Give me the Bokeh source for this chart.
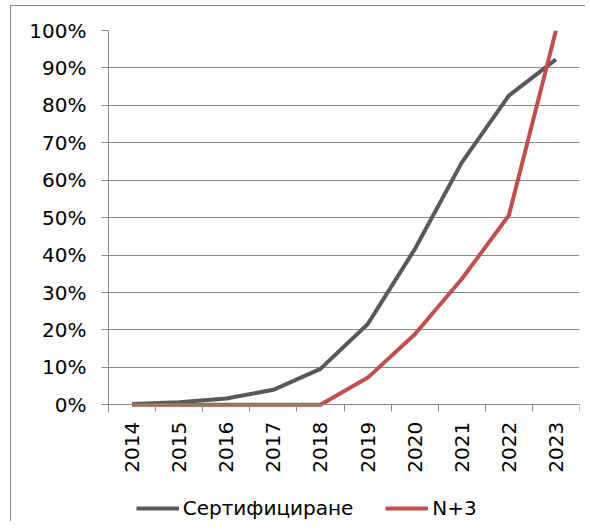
import math
from bokeh.plotting import figure
from bokeh.models import Range1d, FixedTicker, NumeralTickFormatter, Legend, LegendItem
from bokeh.embed import file_html
from bokeh.resources import INLINE

years = ["2014", "2015", "2016", "2017", "2018", "2019", "2020", "2021", "2022", "2023"]
certification = [0.002, 0.007, 0.017, 0.040, 0.096, 0.215, 0.415, 0.647, 0.826, 0.923]
n_plus_3 = [0.0, 0.0, 0.0, 0.0, 0.0, 0.072, 0.188, 0.336, 0.506, 1.0]
series_names = ["Сертифициране", "N+3"]
y_ticks = [0.0, 0.1, 0.2, 0.3, 0.4, 0.5, 0.6, 0.7, 0.8, 0.9, 1.0]

GRAY = "#8a8a8a"
FONT = "DejaVu Sans"

x = [i + 0.5 for i in range(len(years))]

# frame: top at canvas 24, bottom at canvas 514; value 0 sits 374.3 px below 1
y_bottom = -(514 - 398.3) / 374.3

p = figure(width=575, height=516, output_backend="svg", toolbar_location=None,
           x_range=Range1d(0, len(years)), y_range=Range1d(y_bottom, 1.0),
           min_border_left=97, min_border_right=7, min_border_top=24, min_border_bottom=2)
p.styles = {"border-top": "1px solid " + GRAY, "border-left": "1px solid " + GRAY,
            "margin-left": "10px", "margin-top": "5px"}
p.outline_line_color = None
p.background_fill_color = "white"
p.border_fill_color = "white"

# x axis, drawn at the 0 line inside the (tall) frame
xa = p.xaxis[0]
xa.fixed_location = 0
xa.ticker = FixedTicker(ticks=x, minor_ticks=list(range(len(years) + 1)))
xa.major_label_overrides = {x[i]: years[i] for i in range(len(years))}
xa.major_tick_out = 0
xa.major_tick_in = 0
xa.minor_tick_out = 7
xa.minor_tick_in = 0
xa.minor_tick_line_color = GRAY
xa.axis_line_color = GRAY
xa.major_label_orientation = math.pi / 2
xa.major_label_standoff = 10
xa.major_label_text_font = FONT
xa.major_label_text_font_size = "20px"
xa.major_label_text_color = "black"

# y axis
ya = p.yaxis[0]
ya.bounds = (-0.0198, 1.0)
ya.ticker = FixedTicker(ticks=y_ticks)
ya.formatter = NumeralTickFormatter(format="0%")
ya.major_tick_out = 7
ya.major_tick_in = 0
ya.major_tick_line_color = GRAY
ya.minor_tick_line_color = None
ya.axis_line_color = GRAY
ya.major_label_standoff = 15
ya.major_label_text_font = FONT
ya.major_label_text_font_size = "20px"
ya.major_label_text_color = "black"

p.xgrid.visible = False
p.ygrid.grid_line_color = GRAY
p.ygrid.grid_line_width = 1

r1 = p.line(x, certification, line_color="#595959", line_width=4, line_join="round")
r2 = p.line(x, n_plus_3, line_color="#C0504D", line_width=4, line_join="round")

legend = Legend(items=[LegendItem(label=series_names[0], renderers=[r1]),
                       LegendItem(label=series_names[1], renderers=[r2])],
                location=(27.7, 0), orientation="horizontal",
                glyph_width=43, glyph_height=24, label_height=24, label_standoff=4,
                spacing=32, padding=0, margin=0, border_line_color=None,
                background_fill_alpha=0, label_text_font_size="20px",
                label_text_font=FONT, label_text_color="black")
p.add_layout(legend)

open("out.html", "w").write(file_html(p, INLINE))
